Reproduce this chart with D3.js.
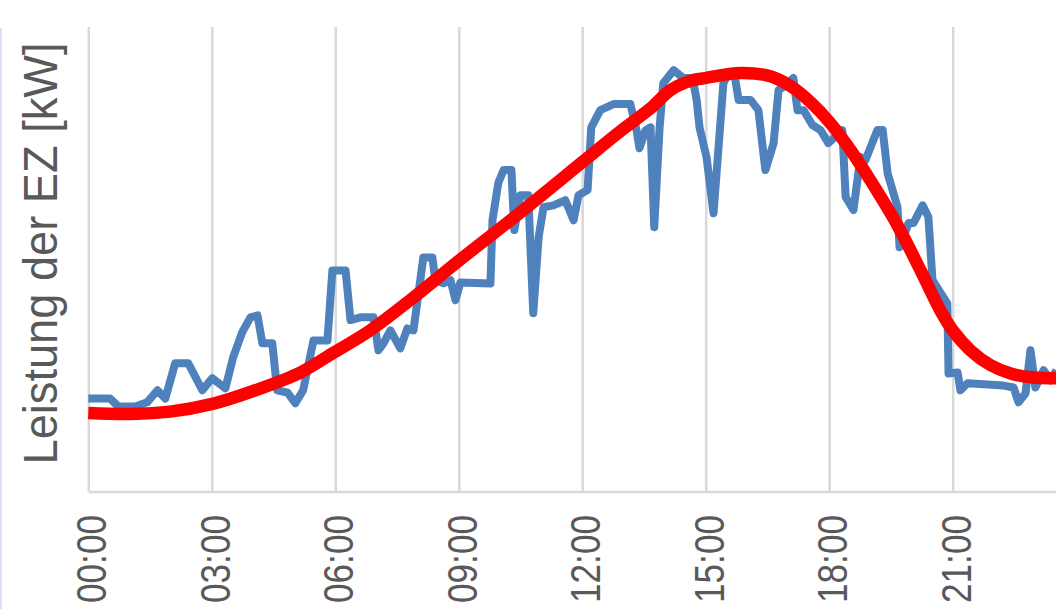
<!DOCTYPE html>
<html>
<head>
<meta charset="utf-8">
<script src="https://cdn.jsdelivr.net/npm/d3@7"></script>
<style>
  html, body { margin: 0; padding: 0; background: #fff; overflow: hidden; }
  svg { display: block; }
</style>
</head>
<body>
<svg id="chart" width="1056" height="609"></svg>
<script>
// X-axis ticks (hours of the day) and their labels
const tickHours  = [0, 3, 6, 9, 12, 15, 18, 21];
const tickLabels = ["00:00", "03:00", "06:00", "09:00", "12:00", "15:00", "18:00", "21:00"];

// Measured output of the generating unit (hour of day, kW)
const measuredHours = [
  0.00, 0.53, 0.73, 1.14, 1.43, 1.68, 1.87, 2.11, 2.43, 2.77,
  3.01, 3.33, 3.52, 3.74, 3.94, 4.11, 4.23, 4.47, 4.59, 4.84,
  5.03, 5.22, 5.47, 5.81, 5.93, 6.25, 6.37, 6.61, 6.93, 7.05,
  7.17, 7.34, 7.58, 7.75, 7.90, 8.14, 8.36, 8.43, 8.63, 8.80,
  8.92, 9.04, 9.77, 9.82, 9.96, 10.09, 10.28, 10.35, 10.50, 10.69,
  10.81, 10.94, 11.06, 11.30, 11.59, 11.79, 11.91, 12.13, 12.22, 12.44,
  12.76, 13.17, 13.32, 13.39, 13.54, 13.66, 13.75, 13.88, 13.97, 14.22,
  14.46, 14.68, 14.78, 14.85, 15.02, 15.19, 15.43, 15.55, 15.70, 15.80,
  16.09, 16.28, 16.45, 16.65, 16.77, 16.89, 17.13, 17.23, 17.38, 17.59,
  17.79, 17.98, 18.32, 18.40, 18.59, 18.76, 18.88, 19.17, 19.30, 19.42,
  19.66, 19.71, 19.93, 20.05, 20.27, 20.41, 20.51, 20.87, 20.90, 21.12,
  21.19, 21.36, 22.24, 22.48, 22.60, 22.77, 22.89, 23.01, 23.21, 23.38,
  23.52
];
const measuredKW = [
  20.0, 20.0, 18.3, 18.3, 19.2, 21.8, 20.0, 27.6, 27.6, 21.8,
  24.4, 22.2, 28.9, 34.3, 37.5, 37.9, 31.9, 31.9, 21.8, 21.3,
  19.0, 21.8, 32.5, 32.5, 47.6, 47.6, 36.9, 37.5, 37.5, 30.4,
  31.9, 34.7, 30.8, 35.1, 34.7, 50.4, 50.4, 45.5, 44.8, 45.5,
  41.2, 45.0, 44.8, 58.4, 66.4, 69.2, 69.2, 56.3, 63.8, 63.8,
  38.4, 54.7, 61.2, 61.6, 62.7, 58.4, 63.8, 64.9, 78.4, 82.1,
  83.4, 83.4, 77.8, 73.9, 77.8, 78.4, 56.9, 78.4, 87.9, 90.7,
  89.0, 89.0, 84.3, 78.4, 72.0, 59.9, 87.9, 90.1, 89.7, 84.3,
  84.3, 82.1, 69.2, 75.0, 86.4, 87.1, 89.0, 82.1, 82.1, 78.9,
  77.8, 75.0, 77.8, 63.4, 60.6, 72.0, 71.3, 77.8, 77.8, 68.5,
  61.2, 52.6, 57.8, 57.8, 61.6, 59.1, 45.5, 40.5, 25.4, 25.6,
  21.8, 23.3, 22.8, 22.4, 19.2, 21.1, 30.4, 22.4, 26.1, 23.9,
  26.1
];

// Smoothed output profile (hour of day, kW)
const fitHours = [
  0.00, 1.02, 1.99, 2.99, 4.06, 5.15, 5.98, 6.85, 7.82, 8.99,
  10.50, 12.00, 12.93, 13.66, 14.14, 14.63, 14.99, 15.84, 16.57, 17.06,
  17.55, 18.03, 18.52, 19.00, 19.66, 20.22, 20.70, 21.00, 21.43, 21.92,
  22.41, 22.89, 23.52
];
const fitKW = [
  16.9, 16.7, 17.2, 18.8, 21.8, 25.6, 30.0, 34.7, 41.2, 49.6,
  60.1, 70.9, 77.6, 82.5, 86.4, 88.4, 89.0, 90.1, 89.4, 87.3,
  83.8, 79.3, 73.5, 67.0, 57.3, 47.6, 39.0, 34.7, 30.4, 27.2,
  25.4, 24.6, 24.4
];

const yAxisTitle = "Leistung der EZ [kW]";

// ---- layout ----
const width = 1056, height = 609;
const plot = { left: 88.3, top: 27, bottom: 491.5 };
const hourPx = 41.16;
const gridColor = "#d9d9d9";
const textColor = "#595959";
const font = "'Liberation Sans', Arial, sans-serif";

const svg = d3.select("#chart");

const x = d3.scaleLinear().domain([0, 24]).range([plot.left, plot.left + 24 * hourPx]);
const y = d3.scaleLinear().domain([0, 100]).range([plot.bottom, plot.top]);

// thin frame edge on the far left
svg.append("rect")
  .attr("x", 0).attr("y", 28)
  .attr("width", 2).attr("height", height - 28)
  .attr("fill", "#d9e3f3");

// x axis with vertical gridlines
const xAxis = d3.axisBottom(x)
  .tickValues(tickHours)
  .tickFormat((d, i) => tickLabels[i])
  .tickSize(-(plot.bottom - plot.top))
  .tickSizeOuter(0);

const gx = svg.append("g")
  .attr("transform", `translate(0,${plot.bottom})`)
  .call(xAxis);

gx.select(".domain")
  .attr("stroke", gridColor)
  .attr("stroke-width", 2.5);

gx.selectAll(".tick line")
  .attr("stroke", gridColor)
  .attr("stroke-width", 2.5);

gx.selectAll(".tick text")
  .attr("transform", "rotate(-90)")
  .attr("x", -23.5)
  .attr("y", 17.5)
  .attr("dy", 0)
  .attr("text-anchor", "end")
  .attr("fill", textColor)
  .attr("font-family", font)
  .attr("font-size", 42)
  .attr("textLength", 88)
  .attr("lengthAdjust", "spacingAndGlyphs");

// y axis title
svg.append("text")
  .attr("transform", `translate(57,253.5) rotate(-90)`)
  .attr("text-anchor", "middle")
  .attr("fill", textColor)
  .attr("font-family", font)
  .attr("font-size", 48)
  .attr("textLength", 422)
  .attr("lengthAdjust", "spacingAndGlyphs")
  .text(yAxisTitle);

// series
const measured = measuredHours.map((h, i) => [h, measuredKW[i]]);
const fitted = fitHours.map((h, i) => [h, fitKW[i]]);

const measuredLine = d3.line()
  .x(d => x(d[0])).y(d => y(d[1]))
  .curve(d3.curveLinear);

const fittedLine = d3.line()
  .x(d => x(d[0])).y(d => y(d[1]))
  .curve(d3.curveCatmullRom.alpha(0.5));

svg.append("path")
  .datum(measured)
  .attr("d", measuredLine)
  .attr("fill", "none")
  .attr("stroke", "#4f81bd")
  .attr("stroke-width", 8)
  .attr("stroke-linejoin", "round");

svg.append("path")
  .datum(fitted)
  .attr("d", fittedLine)
  .attr("fill", "none")
  .attr("stroke", "#ff0000")
  .attr("stroke-width", 12.5)
  .attr("stroke-linejoin", "round");
</script>
</body>
</html>
